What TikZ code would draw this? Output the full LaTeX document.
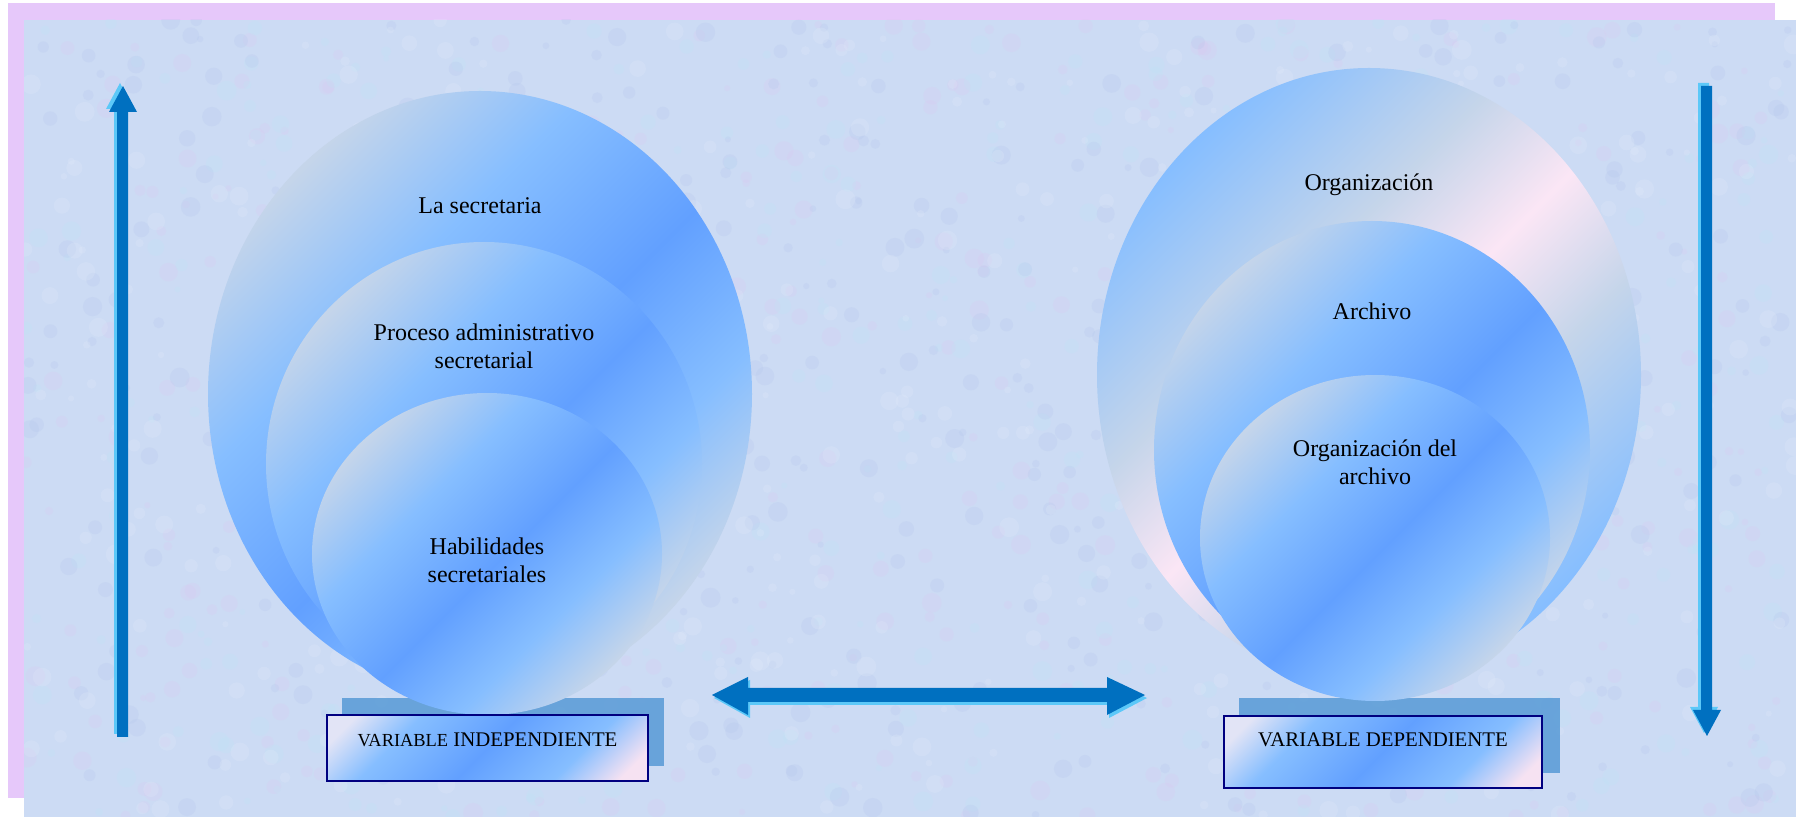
\documentclass[tikz,border=0pt]{standalone}
\usepackage{fontspec}
\setmainfont{Liberation Serif}
\usetikzlibrary{shadows}

\definecolor{framelilac}{HTML}{E6C8FA}
\definecolor{paperblue}{HTML}{CCDBF4}
\definecolor{texpink}{HTML}{DCC8F0}
\definecolor{texcyan}{HTML}{BDE6F6}
\definecolor{texblue}{HTML}{B2C4EC}
\definecolor{texwhite}{HTML}{E4ECFA}
\definecolor{arrowblue}{HTML}{0070C0}
\definecolor{arrowcyan}{HTML}{5CC8F8}
\definecolor{basesteel}{HTML}{5E9ED8}
\definecolor{labelnavy}{HTML}{000080}
\definecolor{orbgray}{HTML}{C5D5EA}
\definecolor{orblight}{HTML}{86BEFF}
\definecolor{orbdeep}{HTML}{62A0FF}
\definecolor{orbpink}{HTML}{FBE6F5}
\definecolor{labelpale}{HTML}{E2E4F6}
\definecolor{labelpink}{HTML}{F6E2F2}

\pgfdeclarehorizontalshading{orbshade}{100bp}{color(0bp)=(orbgray); color(25bp)=(orbgray);
  color(38bp)=(orblight); color(52bp)=(orbdeep); color(64bp)=(orblight);
  color(75bp)=(orbgray); color(100bp)=(orbgray)}
\pgfdeclarehorizontalshading{orbpinkshade}{100bp}{color(0bp)=(orblight); color(25bp)=(orblight);
  color(40bp)=(orbgray); color(50bp)=(orbpink); color(60bp)=(orbgray);
  color(75bp)=(orblight); color(100bp)=(orblight)}
\pgfdeclarehorizontalshading{labelshade}{100bp}{color(0bp)=(labelpale); color(20bp)=(labelpale);
  color(32bp)=(orblight); color(50bp)=(orbdeep); color(68bp)=(orblight);
  color(80bp)=(labelpink); color(100bp)=(labelpink)}

\tikzset{
  orb/.style={shading=orbshade, shading angle=-45},
  pinkorb/.style={shading=orbpinkshade, shading angle=-45},
  orbtext/.style={font=\fontsize{12}{13.8}\selectfont, align=center},
  varbase/.style={fill=basesteel, opacity=0.9},
  varbox/.style={shade, shading=labelshade, shading angle=-45, draw=labelnavy,
    line width=1pt, inner sep=0pt},
  vartext/.style={font=\fontsize{10.4}{12}\selectfont},
  blockarrow/.style={fill=arrowblue}
}

\begin{document}
\begin{tikzpicture}[x=0.5pt,y=-0.5pt]
  \useasboundingbox (0,0) rectangle (1796,817);
  % frame and mottled paper
  \fill[framelilac] (8,3) rectangle (1775,798);
  \fill[paperblue] (24,20) rectangle (1796,817);
  \begin{scope}
    \clip (24,20) rectangle (1796,817);
    \pgfmathsetseed{42}
    \foreach \tint in {texpink,texcyan,texblue,texwhite}
      \foreach \i in {1,...,420}
        \fill[\tint, opacity=0.22] (24+rnd*1772,20+rnd*797) circle ({3+rnd*7});
  \end{scope}

  % side arrows
  \fill[blockarrow, drop shadow={shadow xshift=-1.5pt, shadow yshift=1.5pt, fill=arrowcyan, opacity=1}]
    (117,737) -- (117,112) -- (109,112) -- (123,86) -- (137,112) -- (128,112) -- (128,737) -- cycle;
  \fill[blockarrow, drop shadow={shadow xshift=-1.5pt, shadow yshift=1.5pt, fill=arrowcyan, opacity=1}]
    (1701,86) -- (1712,86) -- (1712,710) -- (1721,710) -- (1707,736) -- (1693,710) -- (1701,710) -- cycle;
  % arrow between the two variables
  \fill[blockarrow, drop shadow={shadow xshift=1pt, shadow yshift=-1.5pt, fill=arrowcyan, opacity=1}]
    (712,695) -- (748,677) -- (748,688) -- (1107,688) -- (1107,677) -- (1145,695)
    -- (1107,715) -- (1107,702) -- (748,702) -- (748,715) -- cycle;

  % bases under the labels
  \fill[varbase] (342,698) rectangle (664,766);
  \fill[varbase] (1239,698) rectangle (1560,773);

  % independent variable
  \shade[orb] (480,394) ellipse [x radius=272, y radius=303];
  \shade[orb] (484,464) ellipse [x radius=218, y radius=222];
  \shade[orb] (487,554) ellipse [x radius=175, y radius=161];
  \node[orbtext] (secretaria) at (480,206) {La secretaria};
  \node[orbtext] (proceso) at (484,346) {Proceso administrativo\\secretarial};
  \node[orbtext] (habilidades) at (487,560) {Habilidades\\secretariales};

  % dependent variable
  \shade[pinkorb] (1369,375) ellipse [x radius=272, y radius=307];
  \shade[orb] (1372,450) ellipse [x radius=218, y radius=229];
  \shade[orb] (1375,538) ellipse [x radius=175, y radius=163];
  \node[orbtext] (organizacion) at (1369,185) {Organización};
  \node[orbtext] (archivo) at (1372,311) {Archivo};
  \node[orbtext] (orgarchivo) at (1375,462) {Organización del\\archivo};

  % labels
  \node[varbox, minimum width=160.5pt, minimum height=33pt] (indepbox) at (487.5,748) {};
  \node[vartext] (indeplabel) at ([yshift=4pt]indepbox.center)
    {{\fontsize{9.2}{11}\selectfont VARIABLE} INDEPENDIENTE};
  \node[varbox, minimum width=159pt, minimum height=36pt] (depbox) at (1383,752) {};
  \node[vartext] (deplabel) at ([yshift=6pt]depbox.center) {VARIABLE DEPENDIENTE};
\end{tikzpicture}
\end{document}
